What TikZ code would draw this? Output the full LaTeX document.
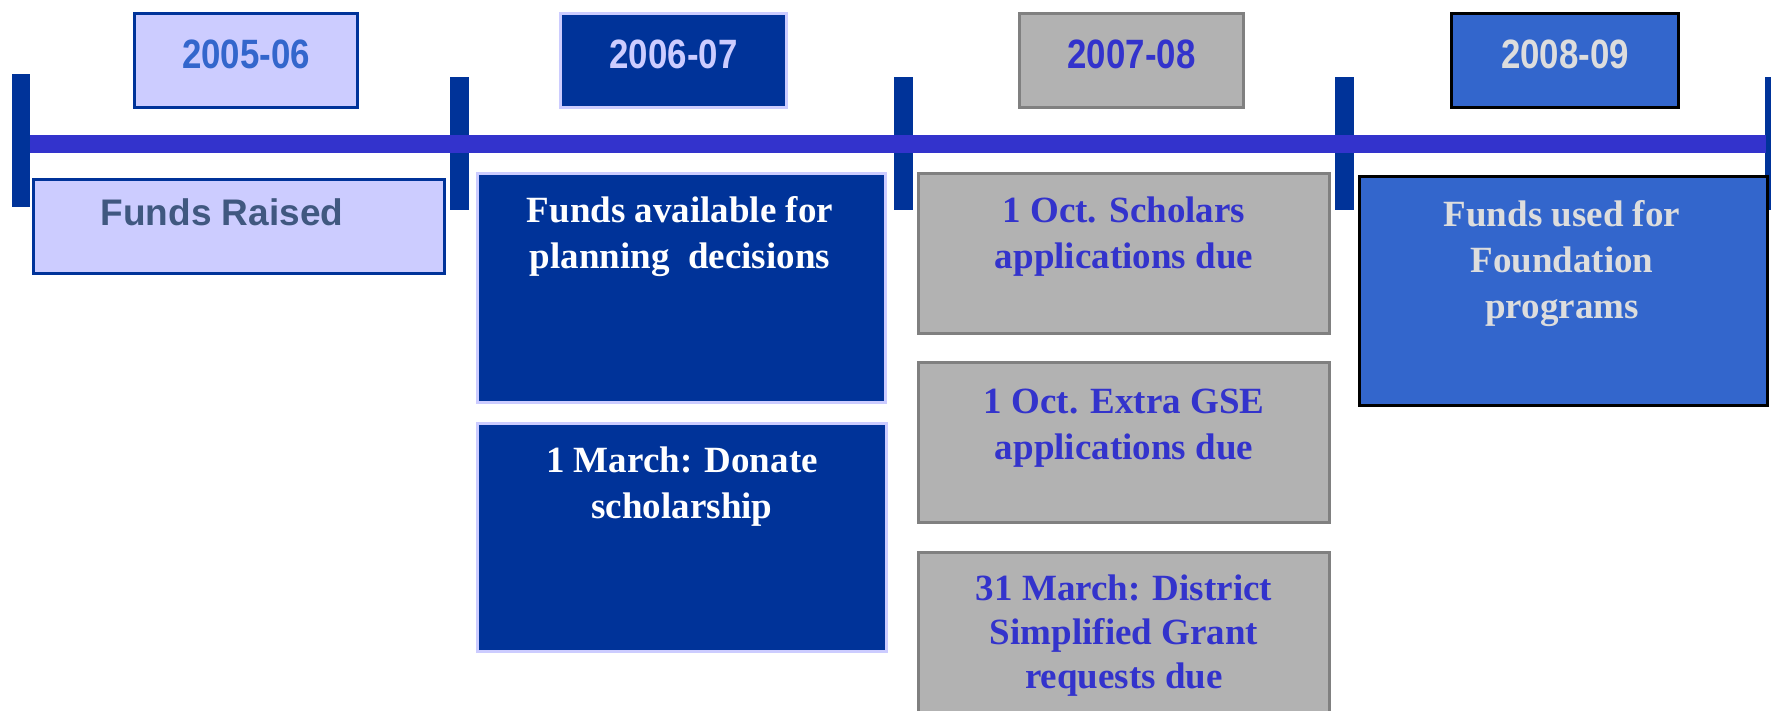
\documentclass[tikz,border=0pt]{standalone}
\usepackage{fontspec}
\setmainfont{Liberation Serif}
\newfontfamily\yearfont[FakeStretch=0.85]{Liberation Sans}
\newfontfamily\sansfnt{Liberation Sans}
\definecolor{navy}{HTML}{003399}
\definecolor{lav}{HTML}{CCCCFF}
\definecolor{line}{HTML}{3333CC}
\definecolor{midblue}{HTML}{3366CC}
\definecolor{greyf}{HTML}{B2B2B2}
\definecolor{greyd}{HTML}{808080}
\definecolor{slate}{RGB}{64,88,128}
\definecolor{pale}{HTML}{DDDDDD}
\tikzset{
  box/.style={rectangle, line width=3pt, inner sep=0pt},
  lavbox/.style={box, draw=navy, fill=lav},
  navybox/.style={box, draw=lav, fill=navy},
  greybox/.style={box, draw=greyd, fill=greyf},
  bluebox/.style={box, draw=black, fill=midblue},
  yeartxt/.style={anchor=base, inner sep=0pt, font={\yearfont\bfseries\fontsize{41}{46}\selectfont}},
  bodytxt/.style={anchor=base, inner sep=0pt, align=center, font={\bfseries\fontsize{37}{46}\selectfont}},
  tick/.style={fill=navy},
}
\begin{document}
\begin{tikzpicture}[x=1pt,y=-1pt]
\useasboundingbox (0,0) rectangle (1771,711);
\clip (0,0) rectangle (1771,711);
% ticks
\fill[tick] (12,74) rectangle (30,207);
\fill[tick] (450,77) rectangle (469,210);
\fill[tick] (894,77) rectangle (913,210);
\fill[tick] (1335,77) rectangle (1354,210);
\fill[tick] (1765,77) rectangle (1784,210);
% timeline
\fill[line] (30,135) rectangle (1766,153);
% year boxes
\node[lavbox, minimum width=223pt, minimum height=94pt] (y1) at (246,60.5) {};
\node[navybox, minimum width=226pt, minimum height=94pt] (y2) at (673.5,60.5) {};
\node[greybox, minimum width=224pt, minimum height=94pt] (y3) at (1131.5,60.5) {};
\node[bluebox, minimum width=227pt, minimum height=94pt] (y4) at (1565,60.5) {};
\node[yeartxt, text=midblue] (t1) at (246,69) {2005-06};
\node[yeartxt, text=lav] (t2) at (673.5,69) {2006-07};
\node[yeartxt, text=line] (t3) at (1131.5,69) {2007-08};
\node[yeartxt, text=pale] (t4) at (1565,69) {2008-09};
% content boxes
\node[lavbox, minimum width=411pt, minimum height=94pt] (b1) at (239,226.5) {};
\node[navybox, minimum width=408pt, minimum height=229pt] (b2) at (681.5,288) {};
\node[navybox, minimum width=409pt, minimum height=228pt] (b3) at (682,537.5) {};
\node[greybox, minimum width=411pt, minimum height=160pt] (c1) at (1124,253.5) {};
\node[greybox, minimum width=411pt, minimum height=160pt] (c2) at (1124,442.5) {};
\node[greybox, minimum width=411pt, minimum height=177pt] (c3) at (1124,641) {};
\node[bluebox, minimum width=408pt, minimum height=229pt] (d1) at (1563.5,291) {};
% texts (anchor = baseline of last line)
\node[anchor=base, inner sep=0pt, text=slate, font={\sansfnt\bfseries\fontsize{37}{44}\selectfont}] (s1) at (222,226) {Funds Raised};
\node[bodytxt, text=white] (s2) at (680,269) {Funds available for\\planning\ \ decisions};
\node[bodytxt, text=white] (s3) at (682,518) {1 March: Donate\\scholarship};
\node[bodytxt, text=line] (s4) at (1124,269) {1 Oct. Scholars\\applications due};
\node[bodytxt, text=line] (s5) at (1124,459) {1 Oct. Extra GSE\\applications due};
\node[bodytxt, text=line, font={\bfseries\fontsize{37}{44}\selectfont}] (s6) at (1124,688) {31 March: District\\Simplified Grant\\requests\ due};
\node[bodytxt, text=pale] (s7) at (1562,318) {Funds used for\\Foundation\\programs};
\end{tikzpicture}
\end{document}
